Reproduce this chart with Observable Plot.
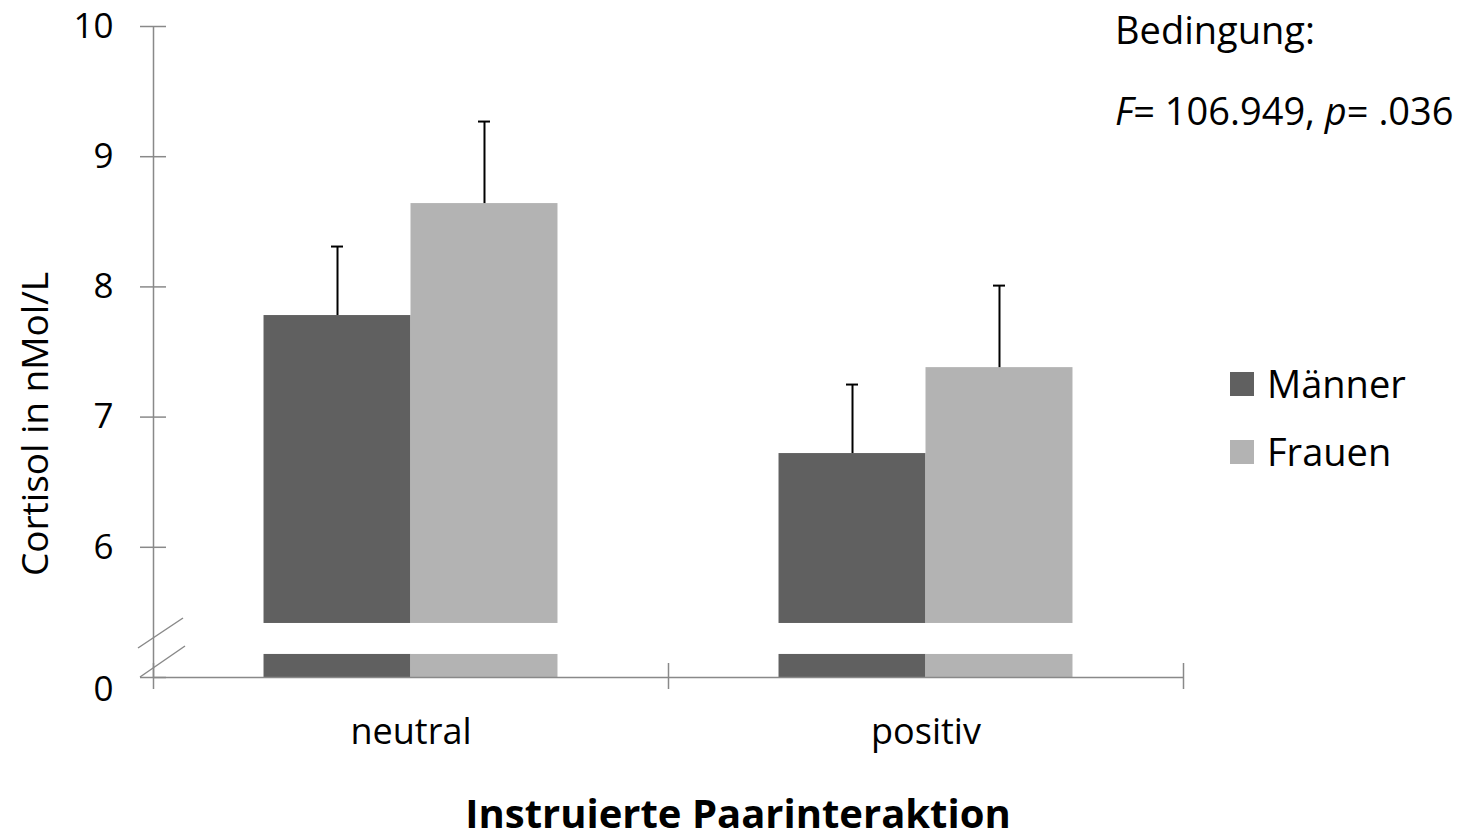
<!DOCTYPE html>
<html>
<head>
<meta charset="utf-8">
<script src="https://cdn.jsdelivr.net/npm/d3@7"></script>
<script src="https://cdn.jsdelivr.net/npm/@observablehq/plot@0.6"></script>
<style>
  body { margin: 0; background: #fff; font-family: "Open Sans", sans-serif; }
  #chart { position: relative; width: 1472px; height: 839px; }
  #chart svg { position: absolute; left: 0; top: 0; }
  .lbl { position: absolute; white-space: nowrap; font-size: 38px; line-height: 1; color: #000; }
  .swatch { position: absolute; width: 24px; height: 24px; }
</style>
</head>
<body>
<div id="chart"></div>
<script>
// Cortisol (nMol/L) by instructed couple interaction and sex
const categories = ["neutral", "positiv"];
const groups = ["Männer", "Frauen"];
const meansMaenner = [7.78, 6.72];
const meansFrauen = [8.64, 7.38];
const errorsMaenner = [0.53, 0.53];
const errorsFrauen = [0.63, 0.63];
const yTicks = [5, 6, 7, 8, 9, 10];
const yTickLabels = ["0", "6", "7", "8", "9", "10"];
const groupColors = ["#606060", "#b3b3b3"];

const yDomain = [5, 10];      // broken axis: the bottom tick stands for 0
const breakLow = 5.177;       // white gap cut out of every bar
const breakHigh = 5.415;
const barWidth = 0.2854;      // bar width in category steps
const axisColor = "#898989";

const rows = [];
categories.forEach((category, i) => {
  rows.push({category, i, group: groups[0], side: -1, mean: meansMaenner[i], err: errorsMaenner[i]});
  rows.push({category, i, group: groups[1], side: 0, mean: meansFrauen[i], err: errorsFrauen[i]});
});
const left = d => d.i + d.side * barWidth;
const right = d => d.i + (d.side + 1) * barWidth;
const center = d => d.i + (d.side + 0.5) * barWidth;
const boundaries = d3.range(categories.length + 1).map(k => k - 0.5);

// axis break marks drawn at the foot of the y axis
function breakMarks(index, scales) {
  const x0 = scales.x(boundaries[0]);
  const yb = scales.y(yDomain[0]);
  const g = d3.create("svg:g")
    .attr("stroke", axisColor).attr("stroke-width", 1.5).attr("fill", "none");
  g.append("path").attr("d",
    `M${x0 - 15},${yb - 29}L${x0 + 30},${yb - 59}M${x0 - 13},${yb}L${x0 + 32},${yb - 31}`);
  return g.node();
}

const plot = Plot.plot({
  width: 1472,
  height: 839,
  marginTop: 26,
  marginBottom: 162,
  marginLeft: 153,
  marginRight: 289,
  style: {fontFamily: "Open Sans", fontSize: "35px", color: "#000", background: "transparent"},
  x: {domain: [boundaries[0], boundaries[boundaries.length - 1]], axis: null},
  y: {domain: yDomain, axis: null},
  color: {domain: groups, range: groupColors},
  marks: [
    // bars, split by the axis break
    Plot.rectY(rows, {x1: left, x2: right, y1: yDomain[0], y2: breakLow, fill: "group"}),
    Plot.rectY(rows, {x1: left, x2: right, y1: breakHigh, y2: "mean", fill: "group"}),
    // error bars
    Plot.ruleX(rows, {x: center, y1: "mean", y2: d => d.mean + d.err, stroke: "#000", strokeWidth: 2}),
    Plot.ruleY(rows, {y: d => d.mean + d.err, x1: center, x2: center, insetLeft: -6, insetRight: -6, stroke: "#000", strokeWidth: 2}),
    // axes
    Plot.ruleX([boundaries[0]], {y1: yDomain[0], y2: yDomain[1], stroke: axisColor, strokeWidth: 1.5}),
    Plot.ruleY([yDomain[0]], {x1: boundaries[0], x2: boundaries[boundaries.length - 1], stroke: axisColor, strokeWidth: 1.5}),
    Plot.ruleY(yTicks, {y: d => d, x1: boundaries[0], x2: boundaries[0], insetLeft: -13, insetRight: -13, stroke: axisColor, strokeWidth: 1.5}),
    Plot.ruleX(boundaries, {x: d => d, y1: yDomain[0], y2: yDomain[0], insetTop: -14, insetBottom: -12, stroke: axisColor, strokeWidth: 1.5}),
    breakMarks,
    // tick labels
    Plot.text(yTicks.slice(1), {y: d => d, text: d => yTickLabels[yTicks.indexOf(d)], frameAnchor: "left", textAnchor: "end", dx: -40}),
    Plot.text(yTicks.slice(0, 1), {y: d => d, text: d => yTickLabels[yTicks.indexOf(d)], frameAnchor: "left", textAnchor: "end", dx: -40, dy: 12}),
    Plot.text(categories, {x: (d, i) => i, text: d => d, frameAnchor: "bottom", dy: 66, fontSize: 36})
  ]
});

const chart = document.getElementById("chart");
chart.append(plot);

function addLabel(html, css) {
  const el = document.createElement("div");
  el.className = "lbl";
  el.innerHTML = html;
  Object.assign(el.style, css);
  chart.append(el);
  return el;
}

addLabel("Cortisol in nMol/L", {left: "33px", top: "424px", fontSize: "37px", transform: "translate(-50%, -50%) rotate(-90deg)"});
addLabel("Instruierte Paarinteraktion", {left: "738px", top: "813px", fontSize: "40px", transform: "translate(-50%, -50%)", fontWeight: "bold"});
addLabel("Bedingung:", {left: "1115px", top: "10px"});
addLabel("<i>F</i>= 106.949, <i>p</i>= .036", {left: "1115px", top: "91px"});

groups.forEach((g, k) => {
  const sw = document.createElement("div");
  sw.className = "swatch";
  Object.assign(sw.style, {left: "1230px", top: `${372 + k * 68}px`, background: groupColors[k]});
  chart.append(sw);
  addLabel(g, {left: "1267px", top: `${364 + k * 68}px`});
});
</script>
</body>
</html>
